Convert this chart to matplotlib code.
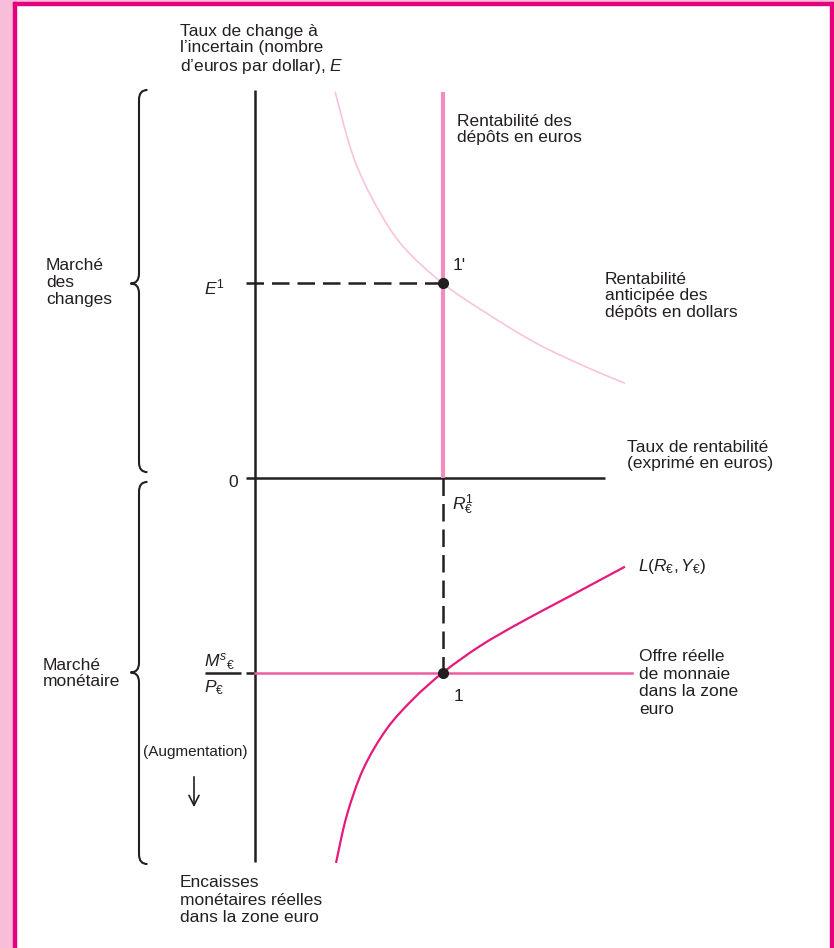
import matplotlib
matplotlib.use("Agg")
import matplotlib.pyplot as plt
from matplotlib.patches import Rectangle, PathPatch
from matplotlib.path import Path

plt.rcParams["font.family"] = ["Liberation Sans", "DejaVu Sans"]
plt.rcParams["mathtext.fontset"] = "custom"
plt.rcParams["mathtext.rm"] = "Liberation Sans"
plt.rcParams["mathtext.it"] = "Liberation Sans:italic"
plt.rcParams["mathtext.bf"] = "Liberation Sans:bold"

# --- data (units: R1 = 1, E1 = 1, Ms/P = 1) ---
R1 = 1.0          # taux de rentabilité d'équilibre
E1 = 1.0          # taux de change d'équilibre
MS_P = 1.0        # offre réelle de monnaie (drawn downward)

# expected return on dollar deposits
DOLLAR_R = [0.426, 0.523, 0.647, 0.789, 1.0, 1.232, 1.498, 1.759, 1.968]
DOLLAR_E = [1.986, 1.652, 1.395, 1.189, 1.0, 0.847, 0.692, 0.572, 0.487]

# real money demand L(R, Y)
L_R = [0.431, 0.488, 0.576, 0.700, 0.842, 1.0, 1.197, 1.410, 1.676, 1.968]
L_M = [1.979, 1.736, 1.496, 1.291, 1.136, 1.0, 0.864, 0.744, 0.607, 0.456]

EURO_TOP = 1.985      # top of euro deposits line
AXIS_TOP = 1.995      # top of E axis
AXIS_BOTTOM = 1.975   # bottom of money axis
RATE_END = 1.862      # right end of rate axis
SUPPLY_END = 2.005    # right end of money supply line
TICK = 0.05

# --- colours ---
DARK = "#231F20"
EURO_PINK = "#F28DBE"
DOLLAR_PINK = "#F9C4DB"
SUPPLY_PINK = "#EE5CA0"
L_PINK = "#E6197C"
FRAME = "#E5007D"
STRIP = "#F7BDD9"

# figure pixel layout -> data units
W, H = 834, 948
X0, SX = 255, 188
Y0, SY = 478, 194.5


def px(x, y):
    return (x - X0) / SX, (Y0 - y) / SY


def smooth_curve(ax, xs, ys, **kw):
    """Draw a Catmull-Rom curve through the given points."""
    pts = list(zip(xs, ys))
    verts, codes = [pts[0]], [Path.MOVETO]
    for i in range(len(pts) - 1):
        p0 = pts[max(i - 1, 0)]
        p1, p2 = pts[i], pts[i + 1]
        p3 = pts[min(i + 2, len(pts) - 1)]
        c1 = (p1[0] + (p2[0] - p0[0]) / 6, p1[1] + (p2[1] - p0[1]) / 6)
        c2 = (p2[0] - (p3[0] - p1[0]) / 6, p2[1] - (p3[1] - p1[1]) / 6)
        verts += [c1, c2, p2]
        codes += [Path.CURVE4] * 3
    ax.add_patch(PathPatch(Path(verts, codes), fill=False, **kw))


def brace(ax, x, y_top, y_bot, y_mid, w=0.045, r=0.05, **kw):
    """Vertical curly brace pointing left."""
    verts = [
        (x + w, y_top), (x, y_top), (x, y_top - r),
        (x, y_mid + r), (x, y_mid), (x - w, y_mid),
        (x, y_mid), (x, y_mid - r),
        (x, y_bot + r), (x, y_bot), (x + w, y_bot),
    ]
    codes = [Path.MOVETO, Path.CURVE3, Path.CURVE3,
             Path.LINETO, Path.CURVE3, Path.CURVE3,
             Path.CURVE3, Path.CURVE3,
             Path.LINETO, Path.CURVE3, Path.CURVE3]
    ax.add_patch(PathPatch(Path(verts, codes), fill=False, **kw))


fig = plt.figure(figsize=(W / 100, H / 100), dpi=100)
ax = fig.add_axes([0, 0, 1, 1])
ax.set_xlim(-X0 / SX, (W - X0) / SX)
ax.set_ylim((Y0 - H) / SY, Y0 / SY)
ax.axis("off")

# frame
fig.patches.extend([
    Rectangle((0, 0), 13 / W, 1, transform=fig.transFigure, color=STRIP, zorder=0),
    Rectangle((0, 1 - 2 / H), 1, 2 / H, transform=fig.transFigure, color=STRIP, zorder=0),
    Rectangle((13 / W, 0), 3 / W, 1 - 2 / H, transform=fig.transFigure, color=FRAME, zorder=1),
    Rectangle((13 / W, 1 - 5 / H), 1 - 13 / W - 1 / W, 3 / H, transform=fig.transFigure, color=FRAME, zorder=1),
    Rectangle((1 - 4 / W, 0), 3 / W, 1 - 2 / H, transform=fig.transFigure, color=FRAME, zorder=1),
])

# axes
ax.plot([0, 0], [-AXIS_BOTTOM, AXIS_TOP], color=DARK, lw=1.8, solid_capstyle="butt")
ax.plot([-TICK, RATE_END], [0, 0], color=DARK, lw=1.8, solid_capstyle="butt")
ax.plot([-TICK, 0], [-MS_P, -MS_P], color=DARK, lw=1.8, solid_capstyle="butt")

# upper panel: foreign exchange market
ax.plot([R1, R1], [0, EURO_TOP], color=EURO_PINK, lw=3.0, solid_capstyle="butt")
smooth_curve(ax, DOLLAR_R, DOLLAR_E, edgecolor=DOLLAR_PINK, lw=1.2)
ax.plot([-TICK, R1], [E1, E1], color=DARK, lw=1.8, dashes=(7, 3.2))

# lower panel: money market
ax.plot([0, SUPPLY_END], [-MS_P, -MS_P], color=SUPPLY_PINK, lw=1.8)
smooth_curve(ax, L_R, [-m for m in L_M], edgecolor=L_PINK, lw=1.6)
ax.plot([R1, R1], [0, -MS_P], color=DARK, lw=1.8, dashes=(7, 3.2))

ax.plot([R1, R1], [E1, -MS_P], "o", color=DARK, ms=7, zorder=5)

# braces
bx = px(139, 0)[0]
brace(ax, bx, AXIS_TOP, 0.03, E1, edgecolor=DARK, lw=1.5)
brace(ax, bx, -0.02, -AXIS_BOTTOM - 0.01, -MS_P, edgecolor=DARK, lw=1.5)

FS = 12.5
kw = dict(color=DARK, fontsize=FS, linespacing=1.12)

ax.text(*px(180, 24), "Taux de change à\nl’incertain (nombre\nd’euros par dollar), $E$",
        ha="left", va="top", **kw)
ax.text(*px(457, 114), "Rentabilité des\ndépôts en euros", ha="left", va="top", **kw)
ax.text(*px(605, 272), "Rentabilité\nanticipée des\ndépôts en dollars", ha="left", va="top", **kw)
ax.text(*px(627, 440), "Taux de rentabilité\n(exprimé en euros)", ha="left", va="top", **kw)
ax.text(*px(639, 649), "Offre réelle\nde monnaie\ndans la zone\neuro", ha="left", va="top",
        color=DARK, fontsize=FS, linespacing=1.22)
ax.text(*px(638, 567), "$L(R_{€},Y_{€})$", ha="left", va="center", **kw)
ax.text(*px(46, 258), "Marché\ndes\nchanges", ha="left", va="top",
        color=DARK, fontsize=FS, linespacing=1.18)
ax.text(*px(43, 658), "Marché\nmonétaire", ha="left", va="top", **kw)
ax.text(*px(143, 752), "(Augmentation)", ha="left", va="center", color=DARK, fontsize=11)
ax.text(*px(180, 875), "Encaisses\nmonétaires réelles\ndans la zone euro", ha="left", va="top",
        color=DARK, fontsize=FS, linespacing=1.22)

ax.annotate("", xy=px(194, 810), xytext=px(194, 774),
            arrowprops=dict(arrowstyle="->", lw=1.2, color=DARK, mutation_scale=18))

# point / level labels
ax.text(*px(238, 483), "0", ha="right", va="center", **kw)
ax.text(*px(225, 287), "$E^{1}$", ha="right", va="center", **kw)
ax.text(R1 + 0.048, -0.14, "$R_{€}^{1}$", ha="left", va="center", **kw)
ax.text(R1 + 0.05, E1 + 0.09, "1'", ha="left", va="center", **kw)
ax.text(R1 + 0.055, -MS_P - 0.125, "1", ha="left", va="center", **kw)

# M^s / P fraction
fx0, fx1 = px(205, 0)[0], px(241, 0)[0]
ax.plot([fx0, fx1], [-MS_P, -MS_P], color=DARK, lw=1.8, solid_capstyle="butt")
ax.text(*px(204, 662), "$M^{s}{}_{€}$", ha="left", va="center", **kw)
ax.text(*px(204, 688), "$P_{€}$", ha="left", va="center", **kw)

fig.savefig("out.png", dpi=100)
